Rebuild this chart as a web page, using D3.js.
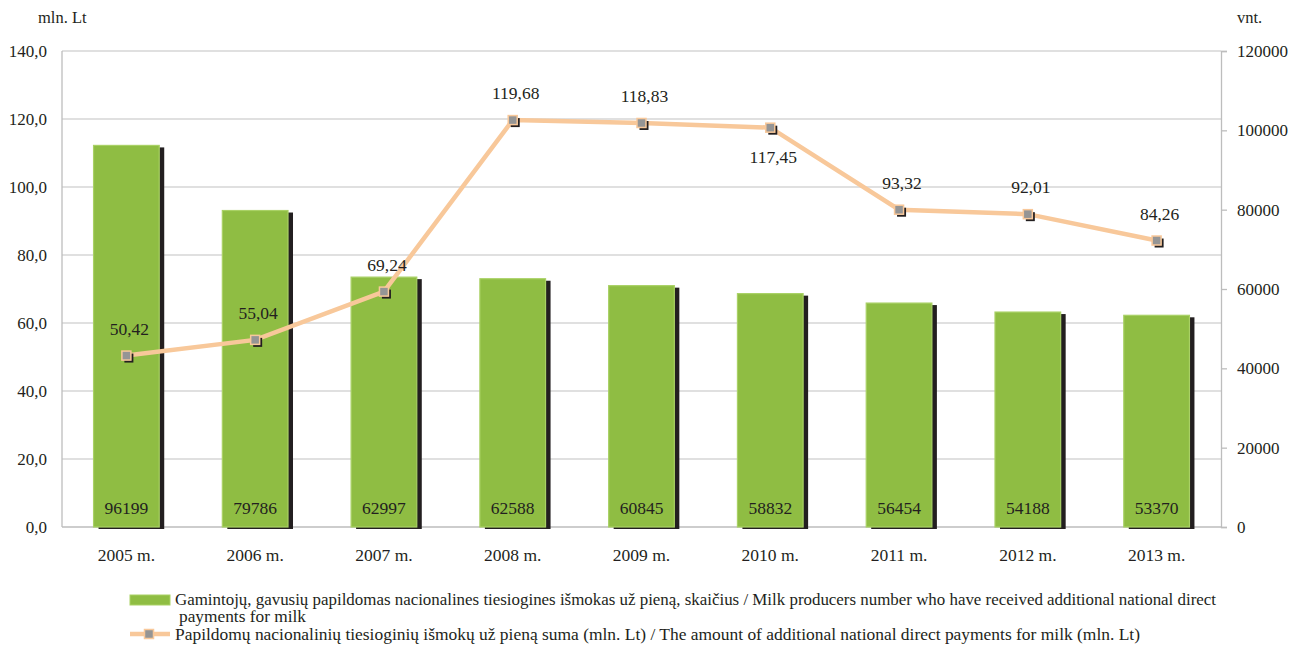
<!DOCTYPE html>
<html><head><meta charset="utf-8">
<script src="https://cdn.jsdelivr.net/npm/d3@7"></script>
<style>body{margin:0;background:#fff}svg{display:block}svg text{font-family:'Liberation Serif' !important}</style>
</head><body><svg id="c" width="1293" height="645"></svg>
<script>
const years = ["2005 m.","2006 m.","2007 m.","2008 m.","2009 m.","2010 m.","2011 m.","2012 m.","2013 m."];
const producers = [96199,79786,62997,62588,60845,58832,56454,54188,53370];
const amounts = [50.42,55.04,69.24,119.68,118.83,117.45,93.32,92.01,84.26];
const leftTicks = [0,20,40,60,80,100,120,140];
const rightTicks = [0,20000,40000,60000,80000,100000,120000];
const legendBar = "Gamintojų, gavusių papildomas nacionalines tiesiogines išmokas už pieną, skaičius / Milk producers number who have received additional national direct";
const legendBar2 = "payments for milk";
const legendLine = "Papildomų nacionalinių tiesioginių išmokų už pieną suma (mln. Lt) / The amount of additional national direct payments for milk (mln. Lt)";

const FF = "'Liberation Serif'";
const TC = "#231f20";
const svg = d3.select("#c");
const L=62, R=1221, T=51, B=527;
const x = d3.scaleBand().domain(years).range([L,R]).paddingInner(0.49).paddingOuter(0.245);
const yL = d3.scaleLinear().domain([0,140]).range([B,T]);
const yR = d3.scaleLinear().domain([0,120000]).range([B,T]);
const fmt = v => d3.format(".1f")(v).replace(".",",");
const fmt2 = v => d3.format(".2f")(v).replace(".",",");
const txt = (g) => g.style("font-family",FF).attr("fill",TC);

// gridlines
svg.append("g").selectAll("line").data(leftTicks).join("line")
 .attr("x1",L).attr("x2",R).attr("y1",d=>yL(d)).attr("y2",d=>yL(d))
 .attr("stroke",d=>d===0?"#bdbdbd":"#d6d6d6").attr("stroke-width",1.3);
svg.append("line").attr("x1",L).attr("x2",L).attr("y1",T).attr("y2",B).attr("stroke","#bdbdbd").attr("stroke-width",1.3);

// left labels
svg.append("g").selectAll("text").data(leftTicks).join("text").call(txt)
 .attr("x",47).attr("y",d=>yL(d)+6).attr("text-anchor","end").attr("font-size",17).text(fmt);
svg.append("text").call(txt).attr("x",38).attr("y",23).attr("font-size",16.5).text("mln. Lt");

// right axis
const ra = svg.append("g").attr("transform",`translate(${R},0)`)
 .call(d3.axisRight(yR).tickValues(rightTicks).tickSize(6).tickPadding(10).tickFormat(d3.format("d")))
 .attr("font-family",null).attr("font-size",17);
ra.select(".domain").attr("stroke","#bdbdbd").attr("stroke-width",1.3);
ra.selectAll(".tick line").attr("stroke","#bdbdbd").attr("stroke-width",1.3);
ra.selectAll(".tick text").call(txt).attr("font-size",17);
svg.append("text").call(txt).attr("x",1237).attr("y",23).attr("font-size",16.5).text("vnt.");

// bars
const bw = x.bandwidth();
svg.append("g").selectAll("rect").data(producers).join("rect")
 .attr("x",(d,i)=>x(years[i])+5).attr("y",d=>yR(d)+2).attr("width",bw).attr("height",d=>B-yR(d))
 .attr("fill","#231f20");
svg.append("g").selectAll("rect").data(producers).join("rect")
 .attr("x",(d,i)=>x(years[i])).attr("y",d=>yR(d)).attr("width",bw).attr("height",d=>B-yR(d))
 .attr("fill","#8fbd43").attr("stroke","#a9d165").attr("stroke-width",1.2);
svg.append("g").selectAll("text").data(producers).join("text").call(txt)
 .attr("x",(d,i)=>x(years[i])+bw/2).attr("y",B-13).attr("text-anchor","middle").attr("font-size",17.5).text(d=>d);

// x labels
svg.append("g").selectAll("text").data(years).join("text").call(txt)
 .attr("x",d=>x(d)+bw/2).attr("y",561).attr("text-anchor","middle").attr("font-size",17.5).text(d=>d);

// line
const cx = i => x(years[i])+bw/2;
svg.append("path").datum(amounts)
 .attr("d",d3.line().x((d,i)=>cx(i)).y(d=>yL(d)))
 .attr("fill","none").attr("stroke","#f8c89a").attr("stroke-width",4.5);
const mk = svg.append("g").selectAll("g").data(amounts).join("g")
 .attr("transform",(d,i)=>`translate(${cx(i)},${yL(d)})`);
mk.append("rect").attr("x",-2).attr("y",-2).attr("width",9).attr("height",9).attr("fill","#231f20");
mk.append("rect").attr("x",-4.5).attr("y",-4.5).attr("width",9).attr("height",9).attr("fill","#959595").attr("stroke","#f8c89a").attr("stroke-width",1.5);
svg.append("g").selectAll("text").data(amounts).join("text").call(txt)
 .attr("x",(d,i)=>cx(i)+3).attr("y",(d,i)=>i===5?yL(d)+35:yL(d)-21)
 .attr("text-anchor","middle").attr("font-size",17.5).text(fmt2);

// legend
svg.append("rect").attr("x",130).attr("y",595).attr("width",40).attr("height",10).attr("fill","#8fbd43").attr("stroke","#a9d165");
svg.append("text").call(txt).attr("x",175).attr("y",605).attr("font-size",16).attr("textLength",1041).attr("lengthAdjust","spacingAndGlyphs").text(legendBar);
svg.append("text").call(txt).attr("x",179).attr("y",622).attr("font-size",16).attr("textLength",127).attr("lengthAdjust","spacingAndGlyphs").text(legendBar2);
svg.append("line").attr("x1",130).attr("x2",170).attr("y1",634).attr("y2",634).attr("stroke","#f8c89a").attr("stroke-width",4.5);
svg.append("rect").attr("x",144.5).attr("y",629.5).attr("width",9).attr("height",9).attr("fill","#959595").attr("stroke","#f8c89a").attr("stroke-width",1.5);
svg.append("text").call(txt).attr("x",175).attr("y",640).attr("font-size",16).attr("textLength",965).attr("lengthAdjust","spacingAndGlyphs").text(legendLine);
</script></body></html>
